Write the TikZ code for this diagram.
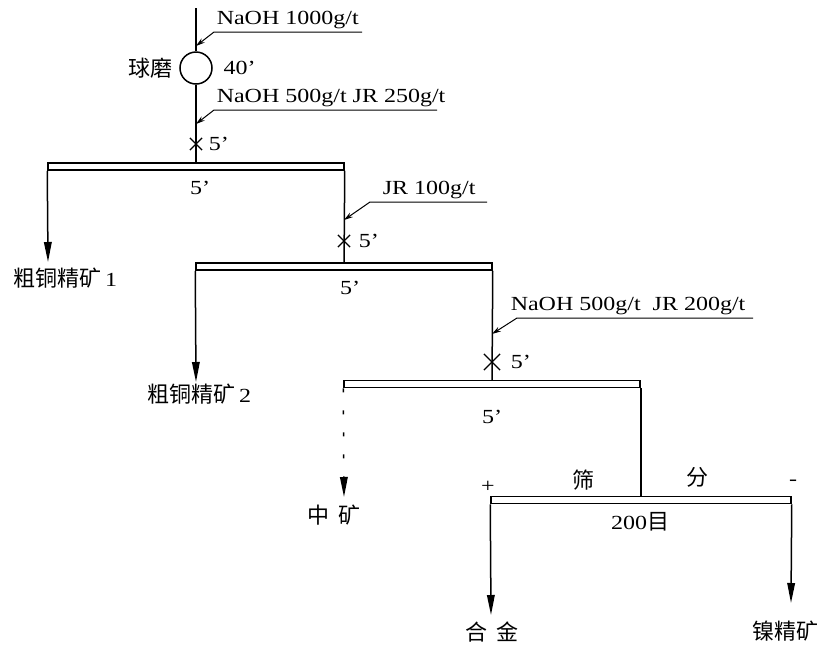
\documentclass[tikz,border=0pt]{standalone}
\usepackage{fontspec}
\setmainfont{Liberation Serif}[FakeStretch=1.2]
\newfontfamily\cjk{Noto Sans CJK SC}
\usetikzlibrary{arrows.meta, positioning, shapes.misc}

\begin{document}
\begin{tikzpicture}[x=0.5pt, y=-0.5pt, line width=0.75pt,
  cellbox/.style={draw, rectangle, minimum width=148pt, minimum height=3.5pt, inner sep=0pt},
  screenbox/.style={cellbox, minimum width=150pt},
  mill/.style={draw, circle, minimum size=16pt, inner sep=0pt},
  mixer/.style={draw, cross out, minimum size=5.5pt, inner sep=0pt, line width=0.6pt},
  flow/.style={-{Triangle[length=10pt, width=3.8pt]}},
  reagent/.style={line width=0.5pt, -{Stealth[length=4.5pt, width=2.6pt]}},
  lbl/.style={font=\fontsize{10}{12}\selectfont, inner sep=1pt}]
  \useasboundingbox (0,0) rectangle (821,644);

  %% Feed and ball mill
  \coordinate (feed) at (196,8);
  \node[mill] (mill) at (196,68) {};
  \node[lbl, left=2pt of mill] (millname) {\cjk\fontsize{11}{13}\selectfont 球磨};
  \node[lbl, right=4pt of mill] (milltime) {40'};
  \draw (feed) -- (mill);

  %% Reagent to mill
  \coordinate (ra1) at (362,32);
  \coordinate (rb1) at (214,32);
  \coordinate (rc1) at (196,46);
  \draw[reagent] (ra1) -- (rb1) -- (rc1);
  \node[lbl, anchor=south west] (rl1) at (rb1) {NaOH 1000g/t};

  %% Cells
  \node[cellbox] (c1) at (196,166.5) {};
  \node[cellbox] (c2) at (344,266.5) {};
  \node[cellbox] (c3) at (492,384) {};
  \node[screenbox] (sc) at (641,500) {};
  \node[lbl] (c1t) at (200,188) {5'};
  \node[lbl] (c2t) at (350,288) {5'};
  \node[lbl] (c3t) at (492,417) {5'};

  %% Conditioning before cell 1
  \draw (mill) -- (c1);
  \node[mixer] (m1) at (196,144) {};
  \node[lbl, right=2pt of m1] (m1t) {5'};
  \coordinate (ra2) at (437,110);
  \coordinate (rb2) at (214,110);
  \coordinate (rc2) at (196,124);
  \draw[reagent] (ra2) -- (rb2) -- (rc2);
  \node[lbl, anchor=south west] (rl2) at (rb2) {NaOH 500g/t JR 250g/t};

  %% Cell 1 outputs
  \coordinate (t1) at (48,262);
  \draw[flow] (c1.south west) -- (t1);
  \node[lbl, anchor=west] (p1) at (11,278) {{\cjk\fontsize{11}{13}\selectfont 粗铜精矿}\,1};
  \draw (c1.south east) -- (c2);
  \node[mixer] (m2) at (344,241) {};
  \node[lbl, right=3pt of m2] (m2t) {5'};
  \coordinate (ra3) at (487,202);
  \coordinate (rb3) at (370,202);
  \coordinate (rc3) at (344,220);
  \draw[reagent] (ra3) -- (rb3) -- (rc3);
  \node[lbl, anchor=south west] (rl3) at (380,202) {JR 100g/t};

  %% Cell 2 outputs
  \coordinate (t2) at (196,382);
  \draw[flow] (c2.south west) -- (t2);
  \node[lbl, anchor=west] (p2) at (145,394) {{\cjk\fontsize{11}{13}\selectfont 粗铜精矿}\,2};
  \draw (c2.south east) -- (c3);
  \node[mixer, minimum size=7.5pt] (m3) at (492,362) {};
  \node[lbl, right=4pt of m3] (m3t) {5'};
  \coordinate (ra4) at (753,318);
  \coordinate (rb4) at (517,318);
  \coordinate (rc4) at (492,334);
  \draw[reagent] (ra4) -- (rb4) -- (rc4);
  \node[lbl, anchor=south west] (rl4) at (508,318) {NaOH 500g/t\ \ JR 200g/t};

  %% Cell 3 outputs
  \coordinate (t3) at (344,497);
  \draw[flow, dash pattern=on 2pt off 9pt] (c3.south west) -- (t3);
  \node[lbl] (p3) at (334,515) {\cjk\fontsize{11}{13}\selectfont 中\hspace{5pt}矿};
  \draw (c3.south east) -- (c3.south east |- sc.north);

  %% Screening
  \node[lbl] (plus) at (488,487) {+};
  \node[lbl] (minus) at (793,483) {-};
  \node[lbl] (s1) at (583,480) {\cjk\fontsize{11}{13}\selectfont 筛};
  \node[lbl] (s2) at (697,477) {\cjk\fontsize{11}{13}\selectfont 分};
  \node[lbl] (mesh) at (640,522) {200{\cjk\fontsize{11}{13}\selectfont 目}};
  \coordinate (t4) at (491,615);
  \coordinate (t5) at (791,603);
  \draw[flow] (sc.south west) -- (t4);
  \draw[flow] (sc.south east) -- (t5);
  \node[lbl] (p4) at (492,632) {\cjk\fontsize{11}{13}\selectfont 合\hspace{5pt}金};
  \node[lbl, anchor=east] (p5) at (821,631) {\cjk\fontsize{11}{13}\selectfont 镍精矿};
\end{tikzpicture}
\end{document}
